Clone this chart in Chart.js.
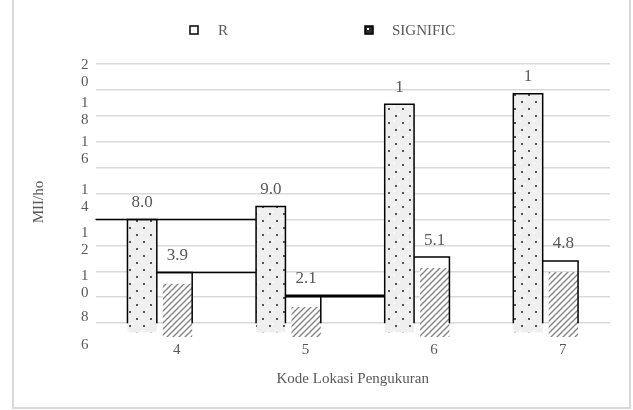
<!DOCTYPE html>
<html>
<head>
<meta charset="utf-8">
<script src="https://cdn.jsdelivr.net/npm/chart.js@4.4.1/dist/chart.umd.min.js"></script>
<style>
  html, body { margin: 0; padding: 0; background: #ffffff; }
  #wrap { width: 633px; height: 410px; }
</style>
</head>
<body>
<div id="wrap"><canvas id="c" width="633" height="410"></canvas></div>
<script>
// ---- data ----
const categories = ['4', '5', '6', '7'];
const rValues = [8.0, 9.0, 16.9, 17.7];
const rLabels = ['8.0', '9.0', '1', '1'];
const sigValues = [3.9, 2.1, 5.1, 4.8];
const sigLabels = ['3.9', '2.1', '5.1', '4.8'];
const seriesNames = ['R', 'SIGNIFIC'];
const yTickLabels = ['20', '18', '16', '14', '12', '10', '8', '6'];

// ---- styling ----
const SERIF = "'Liberation Serif', 'Times New Roman', serif";
const TEXT = '#595959';
const GRID = '#d9d9d9';
const Y_MIN = -1.3, Y_MAX = 20;
const R_FILL_BASE = -0.7;      // dotted fill runs a little below the baseline
const SIG_FILL_BASE = -1.07;   // hatched fill runs further down
const SIG_FILL_DROP = 0.85;    // hatched fill starts below its frame top
// where the stacked y labels sit, in axis units
const yLabelAt = [19.28, 16.36, 13.3, 9.59, 6.28, 2.98, 0.44, -1.72];

const canvas = document.getElementById('c');
const ctx0 = canvas.getContext('2d');

function dotPattern() {
  const c = document.createElement('canvas');
  c.width = 14; c.height = 14;
  const g = c.getContext('2d');
  g.fillStyle = '#efefef'; g.fillRect(0, 0, 14, 14);
  g.fillStyle = '#f7f7f7'; g.fillRect(6, 1, 2, 2); g.fillRect(1, 8, 2, 2);
  g.fillStyle = '#555555';
  g.fillRect(3, 3, 2, 2);
  g.fillRect(10, 10, 2, 2);
  return ctx0.createPattern(c, 'repeat');
}
function hatchPattern() {
  const c = document.createElement('canvas');
  c.width = 6; c.height = 6;
  const g = c.getContext('2d');
  g.fillStyle = '#ffffff'; g.fillRect(0, 0, 6, 6);
  g.strokeStyle = '#858585'; g.lineWidth = 1.4;
  g.beginPath();
  g.moveTo(0, 6); g.lineTo(6, 0);
  g.moveTo(-1, 1); g.lineTo(1, -1);
  g.moveTo(5, 7); g.lineTo(7, 5);
  g.stroke();
  return ctx0.createPattern(c, 'repeat');
}

// connecting steps between neighbouring groups
const stepLinks = [
  { series: 0, cat: 0, fromAxis: true, width: 1.5 },
  { series: 1, cat: 0, fromAxis: false, width: 1.5 },
  { series: 1, cat: 1, fromAxis: false, width: 3 }
];

const framePlugin = {
  id: 'frame',
  beforeDraw(chart) {
    const { ctx, width, height } = chart;
    ctx.save();
    ctx.fillStyle = '#ffffff';
    ctx.fillRect(0, 0, width, height);
    ctx.strokeStyle = GRID;
    ctx.lineWidth = 2;
    ctx.strokeRect(13, -5, 617, 413);
    ctx.restore();
  }
};

const outlinePlugin = {
  id: 'outlines',
  afterDatasetsDraw(chart) {
    const { ctx, chartArea } = chart;
    const y = chart.scales.y;
    const rBars = chart.getDatasetMeta(0).data;
    const sBars = chart.getDatasetMeta(1).data;
    const y0 = y.getPixelForValue(0);
    const values = [rValues, sigValues];
    ctx.save();
    ctx.strokeStyle = '#000000';
    ctx.lineWidth = 1.5;
    rBars.forEach((bar, i) => {
      const l = bar.x - bar.width / 2, r = bar.x + bar.width / 2;
      const top = y.getPixelForValue(rValues[i]);
      ctx.beginPath();
      ctx.moveTo(l, y0); ctx.lineTo(l, top); ctx.lineTo(r, top); ctx.lineTo(r, y0);
      ctx.stroke();
      const s = sBars[i];
      const sr = s.x + s.width / 2;
      const st = y.getPixelForValue(sigValues[i]);
      ctx.beginPath();
      ctx.moveTo(r, st); ctx.lineTo(sr, st); ctx.lineTo(sr, y0);
      ctx.stroke();
    });
    stepLinks.forEach(link => {
      const bar = rBars[link.cat];
      const next = rBars[link.cat + 1];
      const level = y.getPixelForValue(values[link.series][link.cat]);
      const x1 = link.fromAxis ? chartArea.left : bar.x + bar.width / 2;
      const x2 = next.x - next.width / 2;
      ctx.lineWidth = link.width;
      ctx.beginPath();
      ctx.moveTo(x1, level); ctx.lineTo(x2, level);
      ctx.stroke();
    });
    ctx.restore();
  }
};

const valueLabelPlugin = {
  id: 'valueLabels',
  afterDatasetsDraw(chart) {
    const { ctx } = chart;
    const y = chart.scales.y;
    const sets = [[rValues, rLabels], [sigValues, sigLabels]];
    ctx.save();
    ctx.font = '17px ' + SERIF;
    ctx.fillStyle = TEXT;
    ctx.textAlign = 'center';
    ctx.textBaseline = 'middle';
    sets.forEach(([vals, labels], d) => {
      chart.getDatasetMeta(d).data.forEach((bar, i) => {
        ctx.fillText(labels[i], bar.x, y.getPixelForValue(vals[i]) - 17);
      });
    });
    ctx.restore();
  }
};

const legendPlugin = {
  id: 'customLegend',
  afterDraw(chart) {
    const { ctx } = chart;
    const cy = 30;
    ctx.save();
    ctx.font = '15px ' + SERIF;
    ctx.textBaseline = 'middle';
    // R swatch
    ctx.fillStyle = '#ffffff';
    ctx.fillRect(190, cy - 4, 8, 8);
    ctx.strokeStyle = '#000000'; ctx.lineWidth = 1.5;
    ctx.strokeRect(190, cy - 4, 8, 8);
    ctx.fillStyle = TEXT;
    ctx.fillText(seriesNames[0], 218, cy + 1);
    // SIGNIFIC swatch
    ctx.fillStyle = '#2b2b2b';
    ctx.fillRect(365, cy - 4, 8, 8);
    ctx.fillStyle = '#ffffff';
    ctx.fillRect(367, cy - 2, 2, 2);
    ctx.strokeStyle = '#000000';
    ctx.strokeRect(365, cy - 4, 8, 8);
    ctx.fillStyle = TEXT;
    ctx.fillText(seriesNames[1], 392, cy + 1);
    ctx.restore();
  }
};

new Chart(canvas, {
  type: 'bar',
  data: {
    labels: categories,
    datasets: [
      {
        label: seriesNames[0],
        data: rValues.map(v => [R_FILL_BASE, v]),
        backgroundColor: dotPattern(),
        borderWidth: 0
      },
      {
        label: seriesNames[1],
        data: sigValues.map(v => [SIG_FILL_BASE, v - SIG_FILL_DROP]),
        backgroundColor: hatchPattern(),
        borderWidth: 0
      }
    ]
  },
  options: {
    responsive: false,
    devicePixelRatio: 1,
    animation: false,
    categoryPercentage: 0.55,
    barPercentage: 0.83,
    layout: { padding: { left: 20, right: 23, top: 64, bottom: 22 } },
    plugins: {
      legend: { display: false },
      tooltip: { enabled: false }
    },
    scales: {
      x: {
        grid: { display: false, drawTicks: false },
        border: { display: false },
        ticks: { color: TEXT, font: { family: SERIF, size: 15 }, padding: 1, labelOffset: 17, maxRotation: 0 },
        title: {
          display: true, text: 'Kode Lokasi Pengukuran', color: TEXT,
          font: { family: SERIF, size: 15 }, padding: { top: 10, bottom: 0 }
        },
        afterFit(scale) { scale.paddingLeft = 0; scale.paddingRight = 0; }
      },
      y: {
        position: 'left',
        min: Y_MIN, max: Y_MAX,
        afterBuildTicks(scale) {
          const t = [];
          for (let v = 0; v <= 20; v += 2) t.push({ value: v });
          scale.ticks = t;
        },
        grid: { color: GRID, lineWidth: 1.5, drawTicks: false },
        border: { display: false },
        ticks: { display: false },
        afterFit(scale) { scale.width = 0; scale.paddingTop = 0; scale.paddingBottom = 0; }
      },
      yl: {
        position: 'left',
        min: Y_MIN, max: Y_MAX,
        afterBuildTicks(scale) {
          scale.ticks = yLabelAt.map(v => ({ value: v }));
        },
        grid: { display: false, drawTicks: false },
        border: { display: false },
        ticks: {
          autoSkip: false,
          color: TEXT,
          padding: 7,
          font: { family: SERIF, size: 15, lineHeight: 1.12 },
          callback: (v, i) => yTickLabels[i].split('')
        },
        title: {
          display: true, text: 'MII/ho', color: TEXT,
          font: { family: SERIF, size: 15 }, padding: { top: 10, bottom: 26 }
        },
        afterFit(scale) { scale.paddingTop = 0; scale.paddingBottom = 0; }
      }
    }
  },
  plugins: [framePlugin, outlinePlugin, valueLabelPlugin, legendPlugin]
});
</script>
</body>
</html>
